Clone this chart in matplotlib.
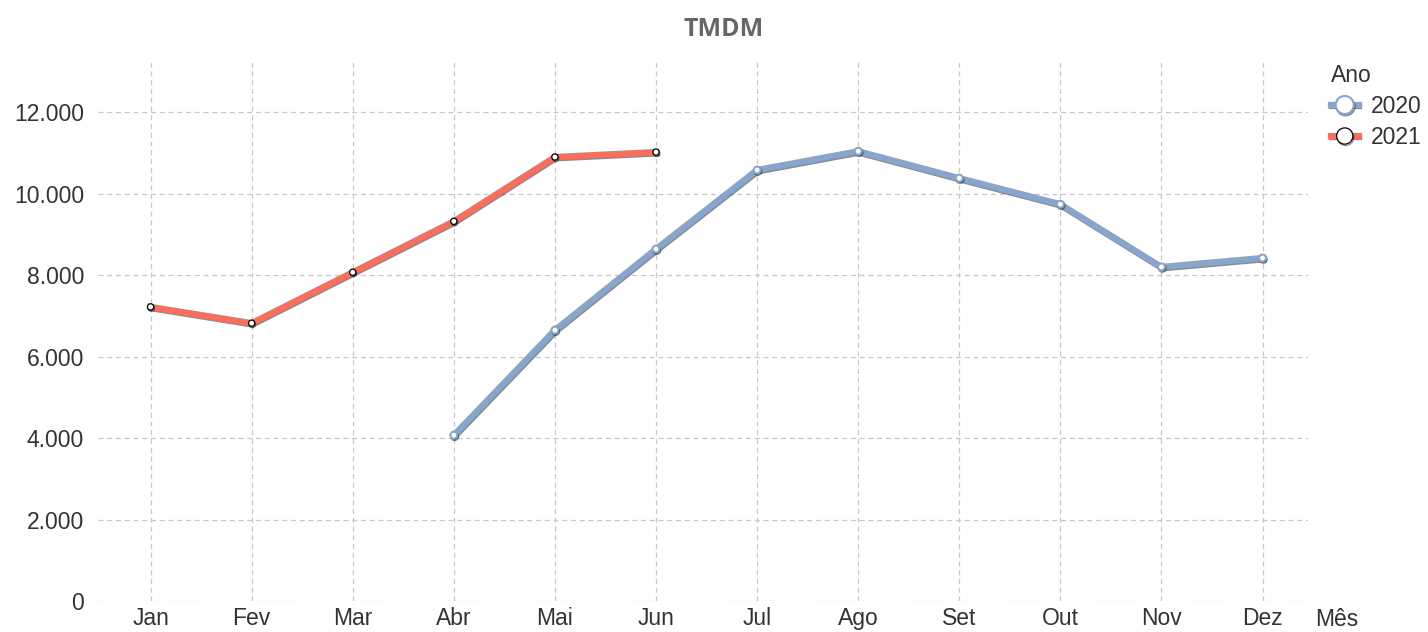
import matplotlib
matplotlib.use("Agg")
import matplotlib.pyplot as plt
import matplotlib.patheffects as pe
from matplotlib.ticker import FuncFormatter

plt.rcParams['font.family'] = ['Liberation Sans', 'DejaVu Sans']

meses = ["Jan", "Fev", "Mar", "Abr", "Mai", "Jun", "Jul", "Ago", "Set", "Out", "Nov", "Dez"]

# 2020 starts in April
meses_2020 = ["Abr", "Mai", "Jun", "Jul", "Ago", "Set", "Out", "Nov", "Dez"]
tmdm_2020 = [4070, 6650, 8640, 10580, 11040, 10380, 9740, 8200, 8420]

meses_2021 = ["Jan", "Fev", "Mar", "Abr", "Mai", "Jun"]
tmdm_2021 = [7220, 6820, 8070, 9320, 10900, 11020]

cor_2020 = "#88a5cb"
cor_2021 = "#f7705f"

fig = plt.figure(figsize=(14.28, 6.32), dpi=100)
ax = fig.add_axes([98 / 1428, 31 / 632, 1210 / 1428, 541 / 632])

sombra = [pe.SimpleLineShadow(offset=(0.6, -1.0), shadow_color="k", alpha=0.45), pe.Normal()]

x20 = [meses.index(m) for m in meses_2020]
x21 = [meses.index(m) for m in meses_2021]

ax.plot(x20, tmdm_2020, color=cor_2020, lw=4.5, marker="o", ms=5,
        mfc="white", mec=cor_2020, mew=1.5, label="2020",
        path_effects=sombra, solid_joinstyle="round", zorder=3)
ax.plot(x21, tmdm_2021, color=cor_2021, lw=4.5, marker="o", ms=4.5,
        mfc="white", mec="black", mew=0.9, label="2021",
        path_effects=sombra, solid_joinstyle="round", zorder=3)

ax.set_xlim(-0.52, 11.45)
ax.set_ylim(0, 13280)
ax.set_xticks(range(len(meses)))
ax.set_xticklabels(meses)
ax.set_yticks(range(0, 12001, 2000))
ax.yaxis.set_major_formatter(FuncFormatter(lambda v, p: f"{int(v):,}".replace(",", ".")))

ax.grid(True, color="#c8c8c8", ls=(0, (4, 3)), lw=0.9)
ax.set_axisbelow(True)
for s in ax.spines.values():
    s.set_visible(False)
ax.tick_params(length=0, labelsize=16.5, labelcolor="#333333")
ax.tick_params(axis="x", pad=4.5)
ax.tick_params(axis="y", pad=10)

fig.text(1315 / 1428, 1 - 619 / 632, "Mês", fontsize=16.5, color="#333333",
         ha="left", va="center")

fig.suptitle("TMDM", x=724 / 1428, y=1 - 17 / 632, fontsize=18, fontweight="bold",
             color="#666666", family=["Open Sans", "DejaVu Sans"], va="top")

leg = ax.legend(title="Ano", loc="upper left", bbox_to_anchor=(1331 / 1428, 1 - 64 / 632),
                bbox_transform=fig.transFigure, frameon=False, fontsize=16.5,
                title_fontsize=16.5, handlelength=1.2, handletextpad=0.55,
                labelspacing=0.35, borderaxespad=0, borderpad=0, markerscale=2.6)
leg._legend_box.align = "left"
for t in leg.get_texts():
    t.set_color("#333333")
leg.get_title().set_color("#333333")

fig.savefig("out.png", dpi=100)
